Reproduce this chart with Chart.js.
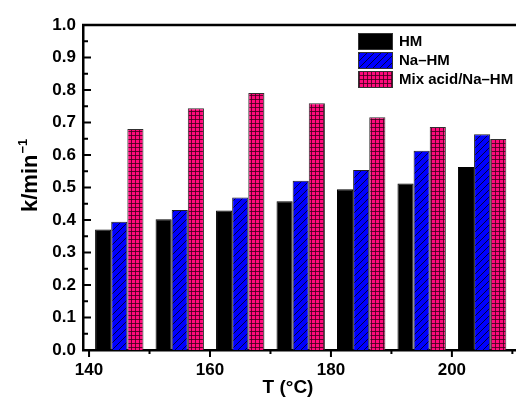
<!DOCTYPE html>
<html>
<head>
<meta charset="utf-8">
<script src="https://cdn.jsdelivr.net/npm/chart.js@4"></script>
<style>
     body { margin: 0; background: #fff; }
     #wrap { width: 516px; height: 400px; }
</style>
</head>
<body>
<div id="wrap"><canvas id="rateChart"></canvas></div>
<script>
// values
const temps = [145, 155, 165, 175, 185, 195, 205];
const hmRate = [0.371, 0.402, 0.429, 0.458, 0.495, 0.512, 0.563];
const naHmRate = [0.395, 0.431, 0.469, 0.521, 0.554, 0.613, 0.664];
const mixRate = [0.680, 0.744, 0.791, 0.759, 0.716, 0.686, 0.649];
const seriesNames = ["HM", "Na\u2013HM", "Mix acid/Na\u2013HM"];

const xTicks = [140, 160, 180, 200];
const xMinorTicks = [150, 170, 190, 210];
const yTicks = [0, 0.1, 0.2, 0.3, 0.4, 0.5, 0.6, 0.7, 0.8, 0.9, 1.0];
const yMinorTicks = [0.05, 0.15, 0.25, 0.35, 0.45, 0.55, 0.65, 0.75, 0.85, 0.95];

const boldFont = "'Liberation Sans', Arial, sans-serif";

// blue bars with diagonal hatch
function makeHatch() {
     const c = document.createElement('canvas');
     c.width = 7; c.height = 7;
     const g = c.getContext('2d');
     g.fillStyle = '#0000ff';
     g.fillRect(0, 0, 7, 7);
     g.strokeStyle = '#000040';
     g.lineWidth = 1;
     g.beginPath();
     g.moveTo(-1, 8); g.lineTo(8, -1);
     g.moveTo(-1, 1); g.lineTo(1, -1);
     g.moveTo(6, 8); g.lineTo(8, 6);
     g.stroke();
     return g.createPattern(c, 'repeat');
}

// pink bars with square grid
function makeGrid() {
     const c = document.createElement('canvas');
     c.width = 4; c.height = 4;
     const g = c.getContext('2d');
     g.fillStyle = '#ff0a7c';
     g.fillRect(0, 0, 4, 4);
     g.fillStyle = 'rgba(60,0,25,0.8)';
     g.fillRect(0, 3, 4, 1);
     g.fillRect(3, 0, 1, 4);
     return g.createPattern(c, 'repeat');
}

function toPoints(vals) {
     return temps.map((t, i) => ({ x: t, y: vals[i] }));
}

// tick marks, top frame line, axis titles and legend
const axisDecor = {
     id: 'axisDecor',
     afterDraw(chart) {
          const { ctx, chartArea: a, scales: { x, y } } = chart;
          ctx.save();
          ctx.strokeStyle = '#000';
          ctx.lineWidth = 2.5;
          ctx.beginPath();
          ctx.moveTo(a.left - 1, a.top);
          ctx.lineTo(a.right, a.top);
          ctx.stroke();

          ctx.lineWidth = 2;
          ctx.beginPath();
          yTicks.forEach(v => {
               const py = y.getPixelForValue(v);
               ctx.moveTo(a.left, py); ctx.lineTo(a.left + 8, py);
          });
          yMinorTicks.forEach(v => {
               const py = y.getPixelForValue(v);
               ctx.moveTo(a.left, py); ctx.lineTo(a.left + 5, py);
          });
          xTicks.forEach(v => {
               const px = x.getPixelForValue(v);
               ctx.moveTo(px, a.bottom); ctx.lineTo(px, a.bottom + 7);
          });
          xMinorTicks.forEach(v => {
               const px = x.getPixelForValue(v);
               ctx.moveTo(px, a.bottom); ctx.lineTo(px, a.bottom + 4);
          });
          ctx.stroke();

          // x title
          ctx.fillStyle = '#000';
          ctx.font = "bold 19px " + boldFont;
          ctx.textAlign = 'center';
          ctx.textBaseline = 'middle';
          ctx.fillText("T (\u00B0C)", 288, 388);

          // y title with superscript
          ctx.save();
          ctx.translate(37, 212);
          ctx.rotate(-Math.PI / 2);
          ctx.textAlign = 'left';
          ctx.textBaseline = 'alphabetic';
          ctx.font = "bold 22px " + boldFont;
          ctx.fillText("k/min", 0, 0);
          const w = ctx.measureText("k/min").width;
          ctx.font = "bold 13px " + boldFont;
          ctx.fillText("\u22121", w + 1, -10);
          ctx.restore();

          // legend
          ctx.font = "bold 15px " + boldFont;
          ctx.textAlign = 'left';
          ctx.textBaseline = 'middle';
          chart.data.datasets.forEach((ds, i) => {
               const bx = 358, by = 33 + i * 19;
               ctx.fillStyle = ds.backgroundColor;
               ctx.fillRect(bx, by, 35, 17);
               ctx.lineWidth = 1;
               ctx.strokeStyle = '#333';
               ctx.strokeRect(bx + 0.5, by + 0.5, 34, 16);
               ctx.fillStyle = '#000';
               ctx.fillText(ds.label, 399, by + 9);
          });
          ctx.restore();
     }
};

const tickFont = { family: boldFont, size: 17, weight: 'bold' };

new Chart(document.getElementById('rateChart'), {
     type: 'bar',
     data: {
          datasets: [
               { label: seriesNames[0], data: toPoints(hmRate), backgroundColor: '#000000', borderColor: '#000000', borderWidth: 1 },
               { label: seriesNames[1], data: toPoints(naHmRate), backgroundColor: makeHatch(), borderColor: '#202020', borderWidth: 1 },
               { label: seriesNames[2], data: toPoints(mixRate), backgroundColor: makeGrid(), borderColor: '#303030', borderWidth: 1 }
          ]
     },
     options: {
          animation: false,
          responsive: true,
          maintainAspectRatio: false,
          layout: { padding: { top: 25, right: 0, left: 0, bottom: 0 } },
          datasets: { bar: { categoryPercentage: 0.8, barPercentage: 1.0 } },
          plugins: { legend: { display: false }, tooltip: { enabled: false } },
          scales: {
               x: {
                    type: 'linear',
                    min: 139,
                    max: 210.6,
                    offset: false,
                    grid: { display: false, drawTicks: false },
                    border: { display: true, color: '#000', width: 2.5 },
                    ticks: { font: tickFont, color: '#000', padding: 10 },
                    afterBuildTicks: s => { s.ticks = xTicks.map(v => ({ value: v })); },
                    afterFit: s => { s.height = 50; }
               },
               y: {
                    min: 0,
                    max: 1,
                    grid: { display: false, drawTicks: false },
                    border: { display: true, color: '#000', width: 2.5 },
                    ticks: { font: tickFont, color: '#000', padding: 7, callback: v => Number(v).toFixed(1) },
                    afterBuildTicks: s => { s.ticks = yTicks.map(v => ({ value: v })); },
                    afterFit: s => { s.width = 83; }
               }
          }
     },
     plugins: [axisDecor]
});
</script>
</body>
</html>
